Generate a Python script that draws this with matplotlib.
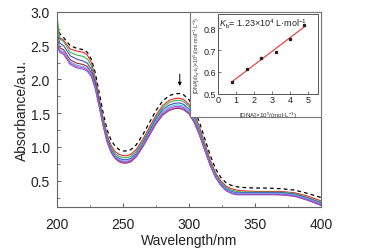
import numpy as np
import matplotlib
matplotlib.use('Agg')
import matplotlib.pyplot as plt
from matplotlib.patches import Rectangle

plt.rcParams['font.family'] = ['Liberation Sans', 'DejaVu Sans']
plt.rcParams['mathtext.fontset'] = 'custom'
plt.rcParams['mathtext.rm'] = 'Liberation Sans'
plt.rcParams['mathtext.it'] = 'Liberation Sans:italic'

# ---------------------------------------------------------------
# Data
# ---------------------------------------------------------------
wavelength = [200, 202, 205, 210, 215, 220, 223, 226, 229, 232, 235, 238, 241,
              244, 247, 250, 253, 256, 260, 265, 270, 275, 280, 285, 290, 293,
              296, 300, 304, 308, 312, 316, 320, 324, 328, 332, 336, 340, 350,
              360, 370, 380, 390, 400]

abs_free = [2.80, 2.68, 2.62, 2.50, 2.46, 2.44, 2.40, 2.30, 2.10, 1.80, 1.50,
            1.25, 1.10, 1.01, 0.96, 0.94, 0.94, 0.96, 1.03, 1.18, 1.36, 1.54,
            1.68, 1.76, 1.79, 1.79, 1.77, 1.70, 1.56, 1.36, 1.12, 0.88, 0.68,
            0.55, 0.47, 0.43, 0.41, 0.40, 0.39, 0.39, 0.38, 0.36, 0.31, 0.25]
abs_red = [2.85, 2.62, 2.58, 2.45, 2.42, 2.40, 2.36, 2.25, 2.03, 1.72, 1.42,
           1.18, 1.02, 0.93, 0.89, 0.87, 0.87, 0.89, 0.96, 1.11, 1.29, 1.47,
           1.61, 1.69, 1.72, 1.72, 1.70, 1.63, 1.49, 1.29, 1.05, 0.81, 0.62,
           0.50, 0.42, 0.38, 0.36, 0.35, 0.34, 0.34, 0.34, 0.32, 0.27, 0.20]
abs_green = [2.95, 2.60, 2.56, 2.40, 2.36, 2.34, 2.30, 2.20, 1.99, 1.69, 1.40,
             1.15, 0.99, 0.90, 0.86, 0.84, 0.84, 0.86, 0.93, 1.08, 1.26, 1.44,
             1.58, 1.66, 1.69, 1.69, 1.67, 1.60, 1.46, 1.26, 1.02, 0.78, 0.60,
             0.48, 0.40, 0.36, 0.34, 0.33, 0.33, 0.33, 0.33, 0.31, 0.25, 0.18]
abs_blue = [2.70, 2.54, 2.50, 2.35, 2.30, 2.27, 2.24, 2.15, 1.95, 1.66, 1.37,
            1.12, 0.96, 0.87, 0.83, 0.81, 0.81, 0.83, 0.90, 1.05, 1.23, 1.41,
            1.55, 1.62, 1.65, 1.65, 1.63, 1.56, 1.42, 1.22, 0.99, 0.76, 0.58,
            0.46, 0.38, 0.34, 0.32, 0.32, 0.32, 0.32, 0.32, 0.30, 0.24, 0.17]
abs_darkred = [2.62, 2.47, 2.44, 2.29, 2.24, 2.22, 2.19, 2.10, 1.91, 1.62, 1.33,
               1.08, 0.92, 0.83, 0.78, 0.76, 0.76, 0.78, 0.85, 1.00, 1.17, 1.34,
               1.47, 1.54, 1.57, 1.57, 1.55, 1.49, 1.36, 1.17, 0.95, 0.73, 0.56,
               0.44, 0.36, 0.32, 0.30, 0.30, 0.30, 0.30, 0.29, 0.27, 0.21, 0.14]
abs_cyan = [2.58, 2.44, 2.41, 2.26, 2.21, 2.19, 2.16, 2.08, 1.89, 1.61, 1.33,
            1.09, 0.94, 0.85, 0.81, 0.79, 0.79, 0.81, 0.88, 1.03, 1.20, 1.38,
            1.52, 1.59, 1.62, 1.62, 1.60, 1.53, 1.40, 1.20, 0.97, 0.75, 0.57,
            0.45, 0.37, 0.33, 0.31, 0.31, 0.31, 0.31, 0.31, 0.29, 0.23, 0.16]
abs_magenta = [2.55, 2.42, 2.39, 2.24, 2.19, 2.17, 2.14, 2.06, 1.87, 1.60, 1.32,
               1.08, 0.93, 0.84, 0.80, 0.78, 0.78, 0.80, 0.87, 1.02, 1.19, 1.36,
               1.50, 1.57, 1.60, 1.60, 1.58, 1.51, 1.38, 1.19, 0.96, 0.74, 0.56,
               0.44, 0.36, 0.32, 0.30, 0.30, 0.30, 0.30, 0.30, 0.28, 0.22, 0.15]
abs_violet = [2.52, 2.40, 2.37, 2.22, 2.17, 2.15, 2.12, 2.04, 1.86, 1.59, 1.31,
              1.07, 0.92, 0.83, 0.79, 0.77, 0.77, 0.79, 0.86, 1.01, 1.18, 1.35,
              1.48, 1.55, 1.58, 1.58, 1.56, 1.50, 1.37, 1.18, 0.95, 0.73, 0.55,
              0.43, 0.35, 0.31, 0.29, 0.29, 0.29, 0.29, 0.29, 0.27, 0.21, 0.13]

series = [abs_red, abs_green, abs_blue, abs_darkred, abs_cyan, abs_magenta, abs_violet]
colors = ['#e8262b', '#3cb44b', '#3a4fc6', '#b0203c', '#3cc4e6', '#d04ad8', '#8a5ac8']

# inset: binding constant plot
dna_conc = [0.8, 1.6, 2.4, 3.2, 4.0, 4.8]
dna_ratio = [0.555, 0.612, 0.662, 0.693, 0.752, 0.815]

# ---------------------------------------------------------------
# Figure
# ---------------------------------------------------------------
fig = plt.figure(figsize=(3.75, 2.53), dpi=100)
ax = fig.add_axes([0.152, 0.178, 0.704, 0.771])

ax.plot(wavelength, abs_free, color='black', linestyle=(0, (3, 2.5)), linewidth=0.9)
for vals, c in zip(series, colors):
    ax.plot(wavelength, vals, color=c, linewidth=0.8)

ax.annotate('', xy=(293, 1.86), xytext=(293, 2.12),
            arrowprops=dict(arrowstyle='-|>', color='black', lw=0.7,
                            mutation_scale=5))

ax.set_xlim(200, 400)
ax.set_ylim(0.11, 3.0)
ax.set_xticks([200, 250, 300, 350, 400])
ax.set_xticks([225, 275, 325, 375], minor=True)
ax.set_yticks([0.5, 1.0, 1.5, 2.0, 2.5, 3.0])
ax.set_yticks([0.25, 0.75, 1.25, 1.75, 2.25, 2.75], minor=True)
ax.tick_params(direction='in', labelsize=10, length=3, width=0.6, colors='#444444',
               labelcolor='#222222')
ax.tick_params(axis='x', pad=7)
ax.tick_params(axis='y', pad=5)
ax.tick_params(which='minor', direction='in', length=1.8, width=0.5, colors='#444444')
for s in ax.spines.values():
    s.set_color('#666666')
    s.set_linewidth(0.8)
ax.set_xlabel('Wavelength/nm', fontsize=10, labelpad=2, color='#222222')
ax.set_ylabel('Absorbance/a.u.', fontsize=10, labelpad=1, color='#222222')

# white box behind the inset
box = Rectangle((0.507, 0.534), 0.349, 0.415, transform=fig.transFigure,
                facecolor='white', edgecolor='#777777', linewidth=0.8, zorder=5)
fig.patches.append(box)

ins = fig.add_axes([0.581, 0.625, 0.267, 0.316], zorder=10)
ins.set_facecolor('white')
fit = np.polyfit(dna_conc, dna_ratio, 1)
xfit = np.array([dna_conc[0], dna_conc[-1]])
ins.plot(xfit, np.polyval(fit, xfit), color='#f03030', linewidth=0.8)
ins.plot(dna_conc, dna_ratio, 's', color='#222222', markersize=1.4)
ins.set_xlim(0, 5.55)
ins.set_ylim(0.5, 0.865)
ins.set_xticks([0, 1, 2, 3, 4, 5])
ins.set_yticks([0.5, 0.6, 0.7, 0.8])
ins.tick_params(direction='in', labelsize=6.5, length=2, width=0.5, pad=1,
                colors='#444444', labelcolor='#222222')
for s in ins.spines.values():
    s.set_color('#555555')
    s.set_linewidth(0.7)
ins.text(0.04, 0.808, r'$K_\mathrm{b}$= 1.23×10$^4$ L·mol$^{-1}$', fontsize=6.5,
         color='#222222')
ins.set_xlabel(r'[DNA]×10$^5$/(mol·L$^{-1}$)', fontsize=4.5, labelpad=4,
               color='#333333')
ins.set_ylabel(r'[DNA]/(ε$_a$-ε$_f$)×10$^5$/(cm·mol$^{-1}$·L$^{-1}$)', fontsize=3.8,
               labelpad=1.5, color='#333333')

fig.savefig('out.png', dpi=100)
